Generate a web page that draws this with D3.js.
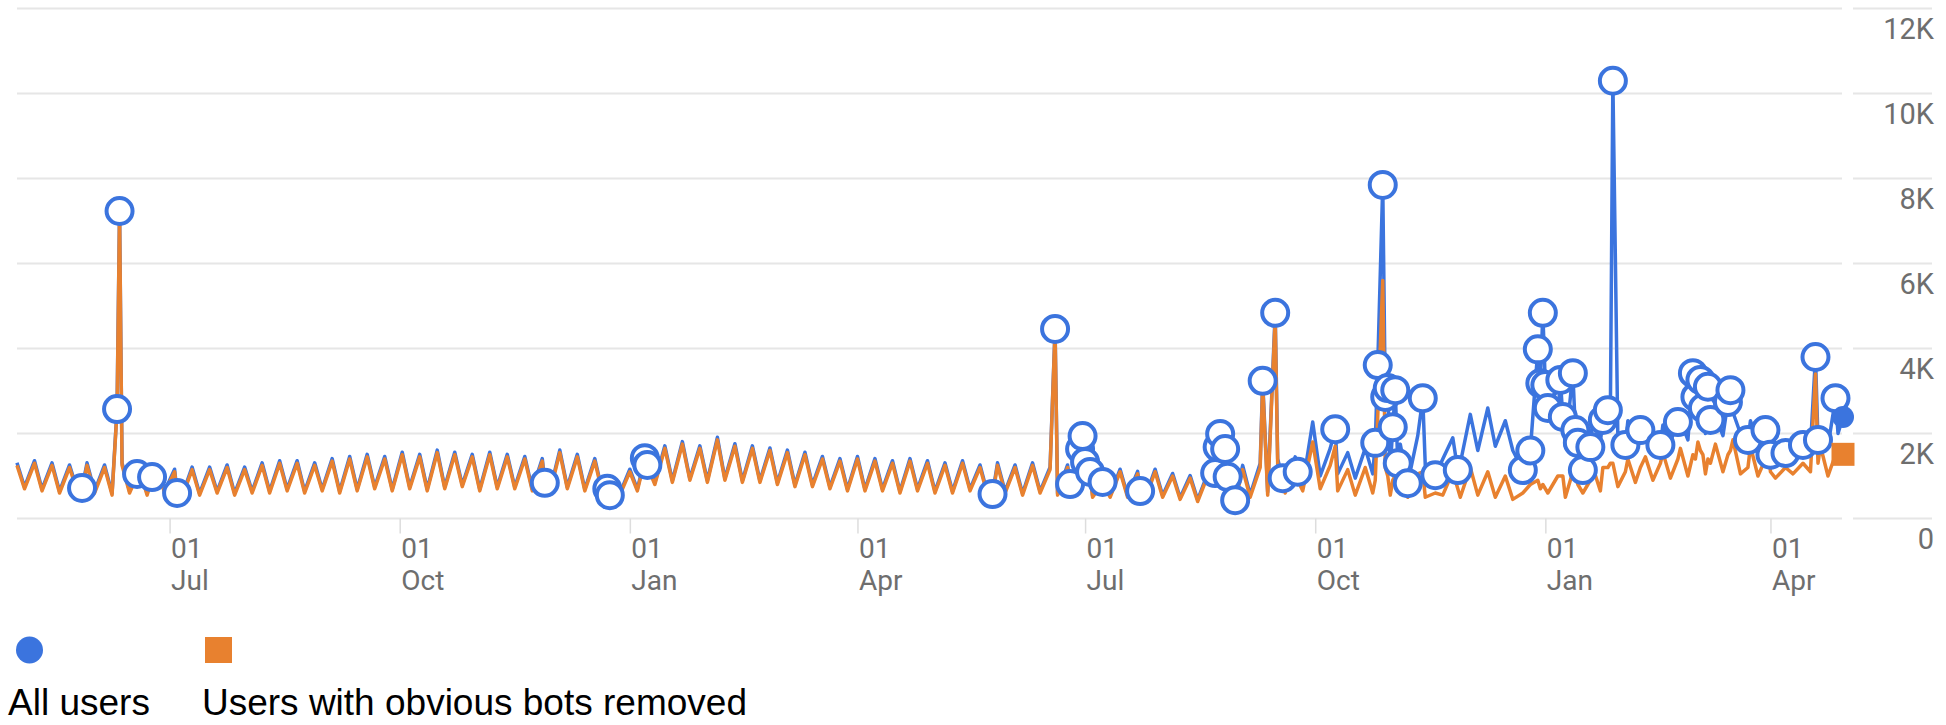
<!DOCTYPE html>
<html>
<head>
<meta charset="utf-8">
<title>Users</title>
<style>
  body { margin: 0; background: #ffffff; }
  text { font-family: Roboto, Arial, sans-serif; }
  .legend text { font-family: "Liberation Sans", Arial, sans-serif; }
</style>
</head>
<body>
<script src="https://cdn.jsdelivr.net/npm/d3@7"></script>
<script>

// first day of data; base samples are taken twice a week (weekday high, weekend low)
var startDate = new Date(2019, 4, 1);
var lastDay = 730;

var seriesNames = ["All users", "Users with obvious bots removed"];

// users with obvious bots removed, half-week samples
var botsBase = [
  1250, 700, 1300, 650, 1250, 600, 1200, 650, 1250, 600, 1200, 550, 1250, 600, 1150, 550,
  1200, 600, 1100, 500, 1150, 550, 1150, 600, 1200, 550, 1150, 600, 1250, 600, 1300, 650,
  1300, 600, 1250, 650, 1350, 600, 1400, 650, 1450, 700, 1400, 650, 1500, 700, 1450, 650,
  1550, 700, 1500, 750, 1450, 650, 1500, 700, 1450, 700, 1400, 650, 1350, 600, 1550, 700,
  1450, 650, 1350, 600, 900, 550, 1100, 650, 1550, 800, 1650, 850, 1750, 900, 1650, 850,
  1850, 900, 1700, 850, 1650, 850, 1600, 800, 1550, 750, 1500, 750, 1400, 700, 1350, 650,
  1400, 650, 1350, 650, 1300, 600, 1350, 650, 1300, 600, 1250, 600, 1300, 650, 1200, 550,
  1250, 600, 1200, 550, 1250, 600, 1150, 550, 1200, 550, 1100, 500, 1150, 500, 1100, 500,
  1050, 450, 1100, 500, 1000, 450, 950, 400, 1000, 450, 1050, 450, 1150, 500, 1200, 550,
  1250, 600, 1300, 650, 1800, 700, 1250, 650, 1150, 550, 1200, 600, 1150, 550, 1100, 500,
  1050, 500, 1150, 550, 1100, 500, 1200, 550, 1100, 500, 1000, 450, 850, 400, 800, 400,
  1000, 500, 1100, 550, 1200, 650, 1300, 750, 1400, 850, 1450, 900, 1550, 950, 1650, 1000,
  1800, 1050, 1750, 1100, 1850, 1050, 1700, 1000, 1650, 950, 1750, 1050, 1800, 1100, 1700, 1000,
  1600
];

// all users, same half-week samples
var allBase = [
  1310, 740, 1360, 690, 1310, 640, 1260, 690, 1310, 640, 1260, 590, 1310, 640, 1210, 590,
  1260, 640, 1160, 540, 1210, 590, 1210, 640, 1260, 590, 1210, 640, 1310, 640, 1360, 690,
  1360, 640, 1310, 690, 1410, 640, 1460, 690, 1510, 740, 1460, 690, 1560, 740, 1510, 690,
  1610, 740, 1560, 790, 1510, 690, 1560, 740, 1510, 740, 1460, 690, 1410, 640, 1610, 740,
  1510, 690, 1410, 640, 960, 590, 1160, 690, 1610, 840, 1710, 890, 1810, 940, 1710, 890,
  1910, 940, 1760, 890, 1710, 890, 1660, 840, 1610, 790, 1560, 790, 1460, 740, 1410, 690,
  1460, 690, 1410, 690, 1360, 640, 1410, 690, 1360, 640, 1310, 640, 1360, 690, 1260, 590,
  1310, 640, 1260, 590, 1310, 640, 1210, 590, 1260, 590, 1160, 540, 1210, 540, 1160, 540,
  1110, 490, 1160, 540, 1060, 490, 1010, 440, 1060, 490, 1110, 490, 1250, 560, 1300, 620,
  1400, 700, 1450, 780, 2270, 1000, 1650, 1050, 1550, 950, 1650, 1050, 1800, 1150, 1750, 1150,
  1950, 1250, 2150, 1400, 1900, 1300, 2450, 1600, 2600, 1700, 2300, 1600, 1800, 1300, 1700, 1200,
  2400, 1700, 2600, 1900, 2400, 1800, 2500, 1900, 2300, 1800, 2200, 1750, 2200, 1800, 2300, 1850,
  2500, 2000, 2400, 1950, 2500, 2000, 2300, 1800, 2100, 1700, 2000, 1650, 2100, 1700, 2100, 1700,
  2000
];

// marked days (circles), day offset from startDate
var markDay = [
  26, 40, 41, 48, 54, 64, 211, 236, 237, 251, 252, 390, 415, 421, 425, 426, 427, 429, 434, 449,
  479, 480, 481, 483, 484, 487, 498, 503, 506, 512, 527, 543, 544, 546, 547, 548, 550, 551, 552, 556,
  562, 567, 576, 602, 605, 608, 609, 610, 611, 612, 617, 618, 622, 623, 624, 626, 629, 634, 636, 638,
  643, 649, 657, 664, 670, 671, 673, 674, 676, 677, 684, 685, 692, 699, 701, 707, 714, 719, 720, 727,
  730
];
var markAll = [
  718, 2576, 7235, 1047, 976, 600, 840, 700, 550, 1420, 1260, 575, 4460, 810, 1635, 1940, 1330, 1095, 860, 645,
  1070, 1680, 1990, 1635, 980, 430, 3240, 4840, 950, 1100, 2100, 1780, 3610, 7850, 2860, 3070, 2150, 3020, 1300, 830,
  2830, 1020, 1140, 1140, 1600, 3980, 3180, 4840, 3140, 2600, 3260, 2390, 3420, 2080, 1780, 1140, 1680, 2320, 2550, 10300,
  1730, 2080, 1730, 2270, 3420, 2860, 3260, 2600, 3100, 2320, 2740, 3020, 1850, 2080, 1500, 1540, 1730, 3800, 1850, 2830,
  2390
];
var markBots = [
  690, 2540, 7200, 1010, 940, 570, 810, 670, 520, 1380, 1230, 540, 4420, 780, 1600, 1900, 1300, 1060, 830, 610,
  1030, 1640, 1950, 1600, 940, 400, 3150, 4700, 850, 900, 1700, 900, 2400, 5600, 1200, 1000, 900, 1000, 700, 500,
  1100, 600, 700, 600, 800, 900, 700, 800, 700, 600, 1000, 1000, 1100, 1000, 800, 600, 900, 1200, 1200, 1300,
  1100, 1200, 1300, 1400, 1500, 1400, 1600, 1500, 1400, 1300, 1500, 1600, 1200, 1400, 1100, 1200, 1300, 3400, 1300, 1500,
  1510
];

var yTicks = [0, 2000, 4000, 6000, 8000, 10000, 12000];
var yLabels = ["0", "2K", "4K", "6K", "8K", "10K", "12K"];

var blue = "#3b74de",
  orange = "#e8812f";

var width = 1946,
  height = 725;

var svg = d3.select("body")
  .append("svg")
  .attr("width", width)
  .attr("height", height);

var x = d3.scaleTime()
  .domain([startDate, d3.timeDay.offset(startDate, lastDay)])
  .range([17, 1843]);

var y = d3.scaleLinear()
  .domain([0, 12000])
  .range([518.5, 8.5]);

function buildSeries(base, marks) {
  var byDay = new Map();
  base.forEach(function(v, i) { byDay.set(Math.floor(i * 3.5), v); });
  markDay.forEach(function(d, i) { byDay.set(d, marks[i]); });
  return Array.from(byDay, function(e) {
    return { date: d3.timeDay.offset(startDate, e[0]), value: e[1] };
  }).sort(function(a, b) { return a.date - b.date; });
}

var allSeries = buildSeries(allBase, markAll);
var botsSeries = buildSeries(botsBase, markBots);

// gridlines: plot part and axis part
yTicks.forEach(function(t) {
  svg.append("line")
    .attr("x1", 17).attr("x2", 1842)
    .attr("y1", y(t)).attr("y2", y(t))
    .attr("stroke", "#e6e6e6").attr("stroke-width", 2);
  svg.append("line")
    .attr("x1", 1853).attr("x2", 1932)
    .attr("y1", y(t)).attr("y2", y(t))
    .attr("stroke", "#e6e6e6").attr("stroke-width", 2);
});

svg.selectAll(".ylabel")
  .data(yTicks)
  .enter()
  .append("text")
  .attr("class", "ylabel")
  .attr("x", 1934)
  .attr("y", function(d) { return y(d) + 30; })
  .attr("text-anchor", "end")
  .attr("font-size", 29)
  .attr("fill", "#6e6e6e")
  .text(function(d, i) { return yLabels[i]; });

// x axis
var xAxis = d3.axisBottom(x)
  .ticks(d3.timeMonth.every(3))
  .tickSize(15)
  .tickFormat(d3.timeFormat("%b"));

var gx = svg.append("g")
  .attr("transform", "translate(0," + y(0) + ")")
  .call(xAxis);

gx.select(".domain").remove();
gx.selectAll(".tick line")
  .attr("stroke", "#dddddd")
  .attr("stroke-width", 1.5);
gx.selectAll(".tick text").each(function(d) {
  var t = d3.select(this);
  t.text(null)
    .attr("y", null)
    .attr("dy", null)
    .attr("text-anchor", "start")
    .attr("font-size", 28)
    .attr("fill", "#6e6e6e")
    .attr("font-family", "Roboto, Arial, sans-serif");
  t.append("tspan").attr("x", 1).attr("y", 39.5).text(d3.timeFormat("%d")(d));
  t.append("tspan").attr("x", 1).attr("y", 71.5).text(d3.timeFormat("%b")(d));
});

var line = d3.line()
  .x(function(d) { return x(d.date); })
  .y(function(d) { return y(d.value); });

svg.append("path")
  .datum(allSeries)
  .attr("d", line)
  .attr("fill", "none")
  .attr("stroke", blue)
  .attr("stroke-width", 3.5)
  .attr("stroke-linejoin", "round");

svg.append("path")
  .datum(botsSeries)
  .attr("d", line)
  .attr("fill", "none")
  .attr("stroke", orange)
  .attr("stroke-width", 3.5)
  .attr("stroke-linejoin", "round");

// hollow markers on the marked days, except the last one
var marks = markDay.map(function(d, i) {
  return { date: d3.timeDay.offset(startDate, d), all: markAll[i], bots: markBots[i] };
});
var lastMark = marks[marks.length - 1];

svg.selectAll(".mark")
  .data(marks.slice(0, -1))
  .enter()
  .append("circle")
  .attr("class", "mark")
  .attr("cx", function(d) { return x(d.date); })
  .attr("cy", function(d) { return y(d.all); })
  .attr("r", 13)
  .attr("fill", "#ffffff")
  .attr("stroke", blue)
  .attr("stroke-width", 4);

svg.append("rect")
  .attr("x", x(lastMark.date) - 11.5)
  .attr("y", y(lastMark.bots) - 11.5)
  .attr("width", 23)
  .attr("height", 23)
  .attr("fill", orange);

svg.append("circle")
  .attr("cx", x(lastMark.date))
  .attr("cy", y(lastMark.all))
  .attr("r", 11)
  .attr("fill", blue);

// legend
var legend = svg.append("g").attr("class", "legend");

legend.append("circle")
  .attr("cx", 29.5).attr("cy", 650).attr("r", 13.5)
  .attr("fill", blue);
legend.append("rect")
  .attr("x", 205).attr("y", 637).attr("width", 27).attr("height", 26)
  .attr("fill", orange);

legend.selectAll("text")
  .data(seriesNames)
  .enter()
  .append("text")
  .attr("x", function(d, i) { return i === 0 ? 8 : 202; })
  .attr("y", 715)
  .attr("font-size", 37)
  .attr("fill", "#000000")
  .text(function(d) { return d; });

</script>
</body>
</html>
